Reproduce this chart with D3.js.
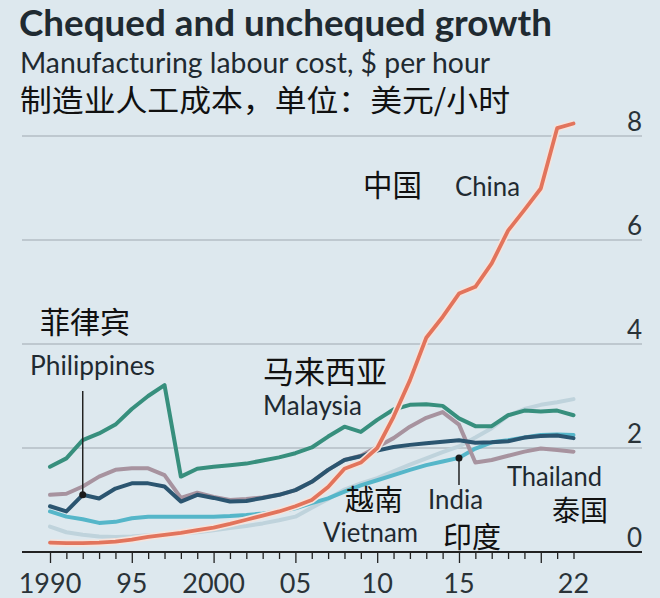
<!DOCTYPE html>
<html><head><meta charset="utf-8">
<script src="https://cdn.jsdelivr.net/npm/d3@7"></script>
<style>
html,body{margin:0;padding:0;background:#dde8ee;}
svg{display:block;}
</style></head>
<body>
<script>
const years = d3.range(1990, 2023);
const china =       [0.18,0.17,0.17,0.18,0.20,0.24,0.29,0.33,0.37,0.42,0.47,0.54,0.62,0.70,0.78,0.88,1.00,1.25,1.60,1.72,2.00,2.60,3.30,4.12,4.52,4.97,5.10,5.55,6.18,6.58,6.99,8.15,8.24];
const malaysia =    [1.64,1.80,2.15,2.28,2.45,2.75,3.00,3.21,1.45,1.60,1.64,1.67,1.70,1.76,1.82,1.90,2.01,2.22,2.41,2.31,2.54,2.74,2.83,2.84,2.81,2.57,2.42,2.42,2.63,2.72,2.70,2.72,2.63];
const philippines = [0.88,0.78,1.10,1.03,1.22,1.32,1.32,1.26,0.97,1.10,1.04,0.97,0.98,1.04,1.10,1.19,1.35,1.58,1.77,1.84,1.95,2.02,2.06,2.09,2.12,2.15,2.10,2.11,2.13,2.20,2.23,2.24,2.19];
const thailand =    [1.10,1.12,1.26,1.45,1.58,1.61,1.61,1.48,1.04,1.14,1.06,1.00,1.02,1.05,1.10,1.19,1.35,1.58,1.77,1.85,2.02,2.19,2.41,2.58,2.69,2.45,1.72,1.77,1.85,1.93,1.99,1.96,1.93];
const india =       [0.78,0.68,0.63,0.56,0.58,0.65,0.68,0.68,0.68,0.68,0.68,0.69,0.71,0.74,0.78,0.84,0.94,1.03,1.16,1.28,1.38,1.48,1.58,1.67,1.74,1.81,1.99,2.11,2.15,2.20,2.25,2.26,2.25];
const vietnam =     [0.49,0.38,0.33,0.30,0.29,0.30,0.32,0.34,0.36,0.38,0.42,0.46,0.50,0.55,0.61,0.68,0.85,1.02,1.20,1.32,1.42,1.55,1.68,1.80,1.92,2.03,2.20,2.38,2.62,2.75,2.83,2.88,2.94];
const yTicks = [0,2,4,6,8];
const xLabelYears = [1990,1995,2000,2005,2010,2015,2022];
const xLabels = ["1990","95","2000","05","10","15","22"];

const W = 660, H = 598;
const svg = d3.select("body").append("svg").attr("width", W).attr("height", H);
svg.append("rect").attr("width", W).attr("height", H).attr("fill", "#dde8ee");

const x = d3.scaleLinear().domain([1990, 2022]).range([50, 573.5]);
const y = d3.scaleLinear().domain([0, 8]).range([552, 136]);
const gridX0 = 22, gridX1 = 642;
const ink = "#1f2a31";
const latin = "Lato, 'Open Sans', sans-serif";
const cjk = "'Noto Sans CJK SC', sans-serif";

// title block
svg.append("text").attr("x", 19).attr("y", 36).text("Chequed and unchequed growth")
  .attr("font-family", latin).attr("font-weight", 700).attr("font-size", 36).attr("fill", ink)
  .attr("textLength", 533).attr("lengthAdjust", "spacingAndGlyphs");
svg.append("text").attr("x", 20).attr("y", 73).text("Manufacturing labour cost, $ per hour")
  .attr("font-family", latin).attr("font-size", 28).attr("fill", ink)
  .attr("textLength", 470).attr("lengthAdjust", "spacingAndGlyphs");
svg.append("text").attr("x", 20).attr("y", 111).text("制造业人工成本，单位：美元/小时")
  .attr("font-family", cjk).attr("font-size", 30).attr("fill", "#111")
  .attr("textLength", 490).attr("lengthAdjust", "spacingAndGlyphs");

// gridlines
svg.append("g").selectAll("line").data(yTicks.filter(d => d > 0)).join("line")
  .attr("x1", gridX0).attr("x2", gridX1).attr("y1", d => y(d)).attr("y2", d => y(d))
  .attr("stroke", "#b3bec5").attr("stroke-width", 1.5);

// y labels
svg.append("g").selectAll("text").data(yTicks).join("text")
  .attr("x", 642).attr("y", d => y(d) - 5).attr("text-anchor", "end")
  .attr("font-family", latin).attr("font-size", 26).attr("fill", "#2a3338")
  .text(d => d);

// lines
const line = d3.line().x((d, i) => x(years[i])).y(d => y(d));
const series = [
  {v: vietnam, c: "#bfd3dc", w: 4},
  {v: india, c: "#55b6c9", w: 4},
  {v: thailand, c: "#a7939f", w: 4},
  {v: philippines, c: "#2b5570", w: 4},
  {v: malaysia, c: "#378f7d", w: 4},
];
series.forEach(s => {
  svg.append("path").datum(s.v).attr("d", line).attr("fill", "none")
    .attr("stroke", s.c).attr("stroke-width", s.w).attr("stroke-linejoin", "round").attr("stroke-linecap", "round");
});
svg.append("path").datum(china).attr("d", line).attr("fill", "none")
  .attr("stroke", "#f5e3dc").attr("stroke-width", 7).attr("stroke-linejoin", "round");
svg.append("path").datum(china).attr("d", line).attr("fill", "none")
  .attr("stroke", "#e2745c").attr("stroke-width", 3.8).attr("stroke-linejoin", "round").attr("stroke-linecap", "round");

// x axis
const axis = d3.axisBottom(x).tickValues(years).tickSize(7).tickFormat("");
const ax = svg.append("g").attr("transform", `translate(0,${y(0)})`).call(axis);
ax.select(".domain").remove();
ax.selectAll(".tick line").attr("stroke", "#222").attr("stroke-width", 1.3)
  .attr("y2", d => (d % 5 === 0 ? 11 : 7));
svg.append("line").attr("x1", gridX0).attr("x2", gridX1).attr("y1", y(0)).attr("y2", y(0))
  .attr("stroke", "#222").attr("stroke-width", 2);
svg.append("g").selectAll("text").data(xLabelYears).join("text")
  .attr("x", d => x(d)).attr("y", 593).attr("text-anchor", "middle")
  .attr("font-family", latin).attr("font-size", 27).attr("fill", "#2a3338")
  .text((d, i) => xLabels[i]);

// annotations
function t(txt, xx, yy, size, fam, len) {
  const el = svg.append("text").attr("x", xx).attr("y", yy).text(txt)
    .attr("font-family", fam).attr("font-size", size).attr("fill", fam === cjk ? "#111" : ink);
  if (len) el.attr("textLength", len).attr("lengthAdjust", "spacingAndGlyphs");
  return el;
}
t("中国", 363, 196, 29.5, cjk);
t("China", 455, 196, 26, latin, 65);
t("菲律宾", 40, 333, 30, cjk);
t("Philippines", 30, 375, 26, latin, 125);
t("马来西亚", 263, 383, 31, cjk);
t("Malaysia", 263, 415, 26, latin, 99);
t("越南", 345, 511, 29, cjk);
t("Vietnam", 323, 542, 26, latin, 95);
t("India", 428, 509, 26, latin, 55);
t("印度", 443, 548, 29, cjk);
t("Thailand", 507, 486, 26, latin, 95);
t("泰国", 552, 521, 28, cjk);

// leader lines & dots
const phX = x(1992), phY = y(philippines[2]);
svg.append("line").attr("x1", phX).attr("x2", phX).attr("y1", 391).attr("y2", phY)
  .attr("stroke", "#222").attr("stroke-width", 1.5);
svg.append("circle").attr("cx", phX).attr("cy", phY).attr("r", 3.5).attr("fill", "#1a1a1a");
const inX = x(2015), inY = y(india[25]);
svg.append("line").attr("x1", inX).attr("x2", inX).attr("y1", inY).attr("y2", 485)
  .attr("stroke", "#222").attr("stroke-width", 1.5);
svg.append("circle").attr("cx", inX).attr("cy", inY).attr("r", 3.5).attr("fill", "#1a1a1a");
</script>
</body></html>
